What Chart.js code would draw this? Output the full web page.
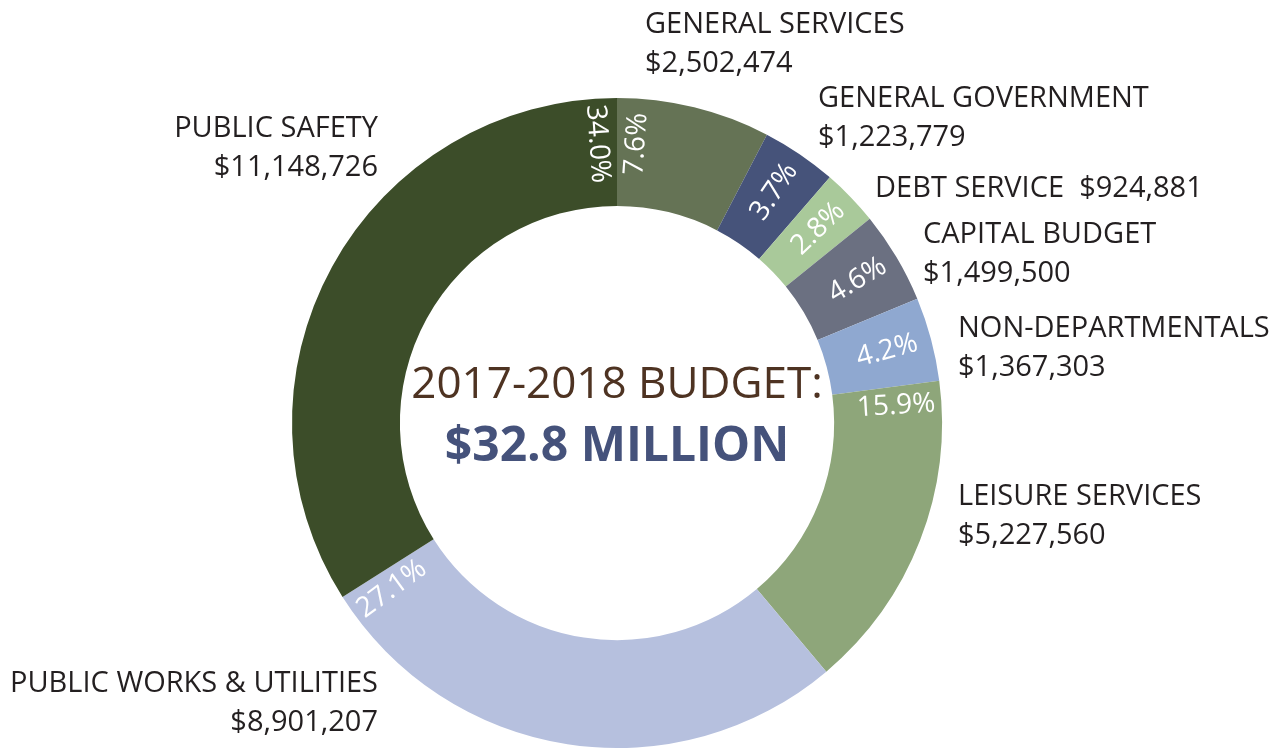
<!DOCTYPE html>
<html>
<head>
<meta charset="utf-8">
<script src="https://cdn.jsdelivr.net/npm/chart.js@4/dist/chart.umd.min.js"></script>
<style>
  html, body { margin: 0; padding: 0; background: #ffffff; }
  #wrap { width: 1287px; height: 749px; position: relative; }
</style>
</head>
<body>
<div id="wrap"><canvas id="c" width="1287" height="749"></canvas></div>
<script>
// ---- data ----
const categories = ['GENERAL SERVICES', 'GENERAL GOVERNMENT', 'DEBT SERVICE', 'CAPITAL BUDGET',
  'NON-DEPARTMENTALS', 'LEISURE SERVICES', 'PUBLIC WORKS & UTILITIES', 'PUBLIC SAFETY'];
const amounts = [2502474, 1223779, 924881, 1499500, 1367303, 5227560, 8901207, 11148726];
const centerTitle = '2017-2018 BUDGET:';
const centerTotal = '$32.8 MILLION';

// ---- styles / layout (not data) ----
const colors = ['#657355', '#46537a', '#a9c99a', '#6b7081', '#8fa8d0', '#8ea67a', '#b6c0de', '#3c4d29'];
// where the percentage sits within its slice
const pctAnchor = ['start', 'mid', 'mid', 'mid', 'mid', 'start', 'end', 'end'];
// outside label layout: offset from chart centre (dx, dy of first baseline), alignment, single-line flag
const labelLayout = [
  { dx: 28,   dy: -390, align: 'left' },
  { dx: 201,  dy: -316, align: 'left' },
  { dx: 258,  dy: -226, align: 'left', oneLine: true },
  { dx: 306,  dy: -180, align: 'left' },
  { dx: 341,  dy: -86,  align: 'left' },
  { dx: 341,  dy: 82,   align: 'left' },
  { dx: -239, dy: 269,  align: 'right' },
  { dx: -239, dy: -286, align: 'right' }
];
const FONT = '"Open Sans", "Noto Sans", sans-serif';

const total = amounts.reduce((a, b) => a + b, 0);
const money = v => '$' + v.toLocaleString('en-US');

const labelPlugin = {
  id: 'budgetLabels',
  afterDatasetsDraw(chart) {
    const ctx = chart.ctx;
    const arcs = chart.getDatasetMeta(0).data;
    if (!arcs.length) return;
    const cx = arcs[0].x, cy = arcs[0].y;
    const rIn = arcs[0].innerRadius, rOut = arcs[0].outerRadius;
    const rText = rIn + (rOut - rIn) * 0.58;
    const pctSize = 28;

    // percentages inside slices
    ctx.save();
    ctx.fillStyle = '#ffffff';
    ctx.font = pctSize + 'px ' + FONT;
    ctx.textAlign = 'center';
    ctx.textBaseline = 'middle';
    arcs.forEach((arc, i) => {
      const txt = (amounts[i] / total * 100).toFixed(1) + '%';
      const pad = (pctSize * 0.55 + 4) / rText;
      let a;
      if (pctAnchor[i] === 'start') a = arc.startAngle + pad;
      else if (pctAnchor[i] === 'end') a = arc.endAngle - pad;
      else a = (arc.startAngle + arc.endAngle) / 2;
      const theta = a + Math.PI / 2; // clockwise from top
      const norm = ((theta % (2 * Math.PI)) + 2 * Math.PI) % (2 * Math.PI);
      const rot = norm < Math.PI ? a : a + Math.PI;
      ctx.save();
      ctx.translate(cx + rText * Math.cos(a), cy + rText * Math.sin(a));
      ctx.rotate(rot);
      ctx.fillText(txt, 0, 0);
      ctx.restore();
    });
    ctx.restore();

    // outside category labels
    ctx.save();
    ctx.fillStyle = '#231f20';
    ctx.font = '29px ' + FONT;
    ctx.textBaseline = 'alphabetic';
    categories.forEach((name, i) => {
      const L = labelLayout[i];
      ctx.textAlign = L.align;
      const x = cx + L.dx, y = cy + L.dy;
      if (L.oneLine) {
        ctx.fillText(name + '  ' + money(amounts[i]), x, y);
      } else {
        ctx.fillText(name, x, y);
        ctx.fillText(money(amounts[i]), x, y + 39);
      }
    });
    ctx.restore();

    // centre text
    ctx.save();
    ctx.textAlign = 'center';
    ctx.textBaseline = 'alphabetic';
    ctx.fillStyle = '#4e3322';
    ctx.font = '44px ' + FONT;
    ctx.fillText(centerTitle, cx, cy - 25);
    ctx.fillStyle = '#45527b';
    ctx.font = 'bold 48px ' + FONT;
    ctx.fillText(centerTotal, cx, cy + 38);
    ctx.restore();
  }
};

new Chart(document.getElementById('c'), {
  type: 'doughnut',
  data: {
    labels: categories,
    datasets: [{
      data: amounts,
      backgroundColor: colors,
      borderWidth: 0
    }]
  },
  options: {
    responsive: false,
    animation: false,
    radius: 325,
    cutout: '66.8%',
    rotation: 0,
    layout: { padding: { top: 97, bottom: 0, left: 0, right: 53 } },
    plugins: {
      legend: { display: false },
      tooltip: { enabled: false },
      title: { display: false }
    }
  },
  plugins: [labelPlugin]
});
</script>
</body>
</html>
